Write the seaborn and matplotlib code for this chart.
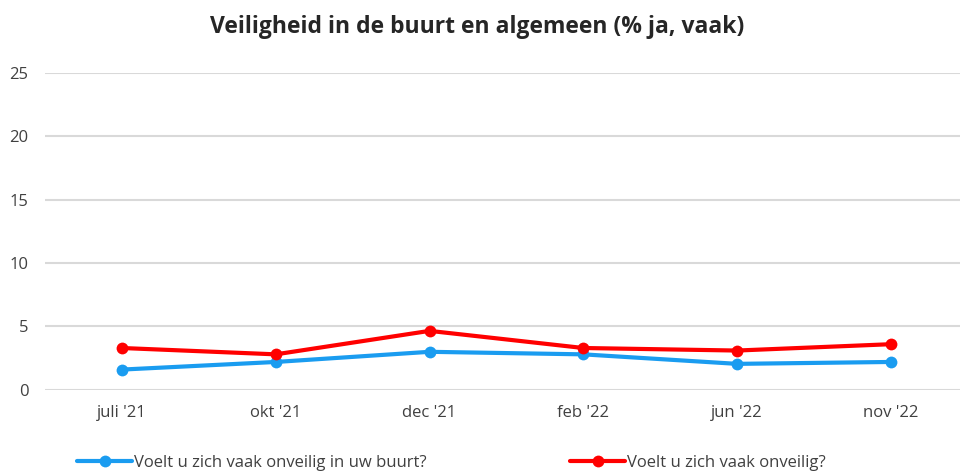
import pandas as pd
import matplotlib.pyplot as plt
import seaborn as sns

# Data
periods = ["juli '21", "okt '21", "dec '21", "feb '22", "jun '22", "nov '22"]
buurt = [1.6, 2.2, 3.0, 2.8, 2.05, 2.2]
algemeen = [3.3, 2.8, 4.65, 3.3, 3.1, 3.6]
series_names = ["Voelt u zich vaak onveilig in uw buurt?", "Voelt u zich vaak onveilig?"]
yticks = [0, 5, 10, 15, 20, 25]

df = pd.DataFrame({
    "periode": periods * 2,
    "pct": buurt + algemeen,
    "vraag": [series_names[0]] * len(periods) + [series_names[1]] * len(periods),
})

sns.set_style("white")
plt.rcParams['font.family'] = ['Open Sans', 'DejaVu Sans']

fig = plt.figure(figsize=(9.6, 4.72), dpi=100)
ax = fig.add_axes([0.047, 0.174, 0.961, 0.672])

sns.lineplot(data=df, x="periode", y="pct", hue="vraag", sort=False,
             palette=["#1a9cf0", "#ff0000"], marker="o", markersize=8.5,
             markeredgewidth=0, linewidth=3, ax=ax, legend=False)

ax.set_xlim(-0.5, 5.5)
ax.set_ylim(0, 25)
ax.set_yticks(yticks)
ax.set_yticklabels([str(t) for t in yticks], fontsize=12, color="#404040")
ax.tick_params(axis='x', labelsize=12, labelcolor="#404040", length=0, pad=11)
ax.tick_params(axis='y', length=0, pad=12)
ax.yaxis.grid(True, color="#d9d9d9", linewidth=1.5)
ax.set_axisbelow(True)
for s in ax.spines.values():
    s.set_visible(False)
ax.set_xlabel("")
ax.set_ylabel("")

fig.suptitle("Veiligheid in de buurt en algemeen (% ja, vaak)", fontsize=16.5,
             fontweight="bold", x=0.497, y=0.942, va="center")

handles = ax.get_lines()[:2]
fig.legend(handles, series_names, loc="lower left", bbox_to_anchor=(0.065, -0.03),
           ncol=2, frameon=False, fontsize=12, handlelength=3.3,
           handletextpad=0.1, columnspacing=8.6, labelcolor="#404040")

fig.savefig("out.png", dpi=100)
